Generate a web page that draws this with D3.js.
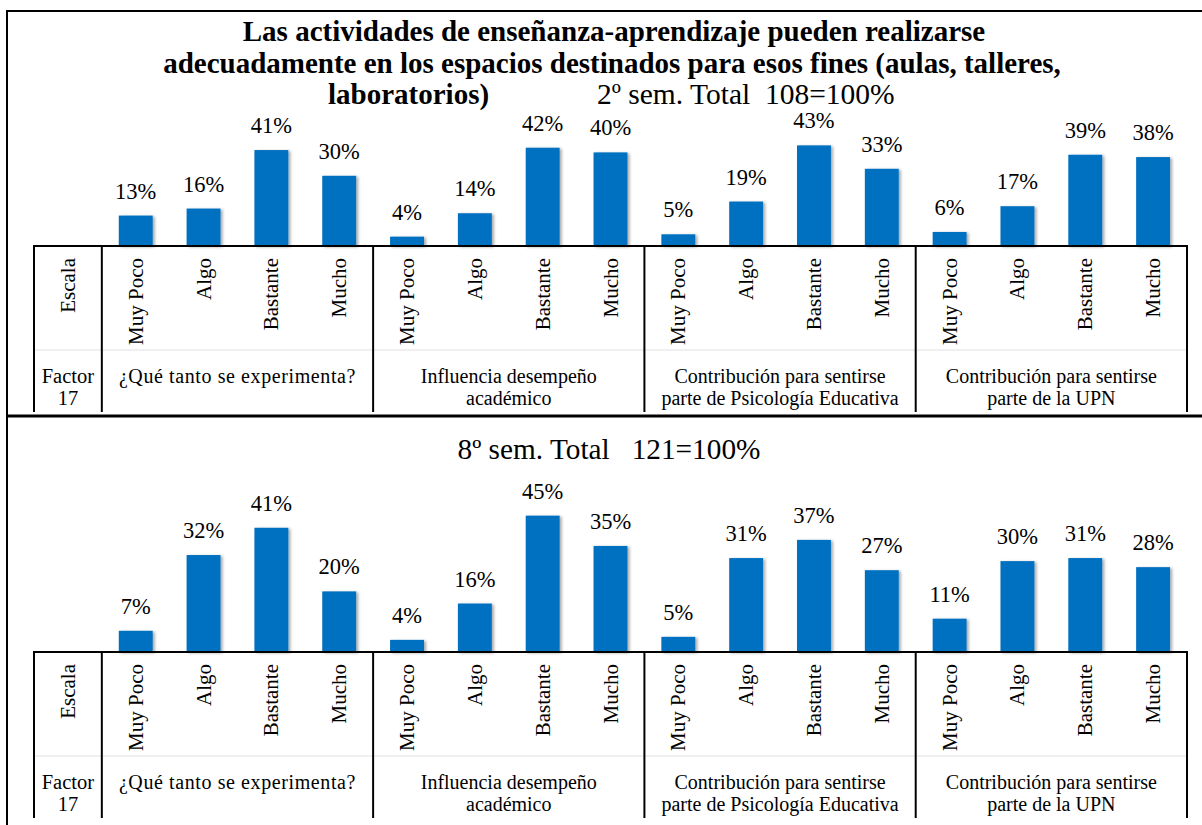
<!DOCTYPE html>
<html>
<head>
<meta charset="utf-8">
<script src="https://cdn.jsdelivr.net/npm/d3@7"></script>
<style>
  body { margin: 0; background: #fff; }
  text { font-family: "Liberation Serif", "Times New Roman", serif; fill: #000; }
</style>
</head>
<body>
<div id="graphHolder"></div>
<script>
var scaleLabels = ["Muy Poco", "Algo", "Bastante", "Mucho"];
var groupLabels = [
    ["¿Qué tanto se experimenta?"],
    ["Influencia desempeño", "académico"],
    ["Contribución para sentirse", "parte de Psicología Educativa"],
    ["Contribución para sentirse", "parte de la UPN"]
];
var sem2Values = [0.13, 0.16, 0.41, 0.30, 0.04, 0.14, 0.42, 0.40, 0.05, 0.19, 0.43, 0.33, 0.06, 0.17, 0.39, 0.38];
var sem8Values = [0.07, 0.32, 0.41, 0.20, 0.04, 0.16, 0.45, 0.35, 0.05, 0.31, 0.37, 0.27, 0.11, 0.30, 0.31, 0.28];
var titleLines = [
    "Las actividades de enseñanza-aprendizaje pueden realizarse",
    "adecuadamente en los espacios destinados para esos fines (aulas, talleres,",
    "laboratorios)"
];
var sem2Title = "2º sem. Total\u00a0 108=100%";
var sem8Title = "8º sem. Total \u00a0 121=100%";

var graphWidth = 1202, graphHeight = 825;

var svg = d3.select("#graphHolder")
        .append("svg")
        .attr("width", graphWidth)
        .attr("height", graphHeight);

var defs = svg.append("defs");
defs.append("filter").attr("id", "shadow")
        .attr("x", "-20%").attr("y", "-20%").attr("width", "150%").attr("height", "150%")
        .append("feDropShadow")
        .attr("dx", 2).attr("dy", 1)
        .attr("stdDeviation", 1.5)
        .attr("flood-color", "#000")
        .attr("flood-opacity", 0.35);

// slots: Escala column + 16 bars
var slots = ["Escala"];
groupLabels.forEach(function (g, gi) {
    scaleLabels.forEach(function (s) { slots.push(gi + "-" + s); });
});

var x = d3.scaleBand().domain(slots).range([34, 1187]).padding(0);
var bw = x.bandwidth();

// frame
svg.append("path")
        .attr("d", "M7,830 L7,11 L1203,11")
        .attr("fill", "none").attr("stroke", "#000").attr("stroke-width", 2);
svg.append("line")
        .attr("x1", 7).attr("x2", 1202).attr("y1", 416).attr("y2", 416)
        .attr("stroke", "#000").attr("stroke-width", 3);

// title
var title = svg.append("g");
title.append("text").attr("x", 614).attr("y", 41).attr("text-anchor", "middle")
        .attr("font-weight", "bold").attr("font-size", 29).text(titleLines[0]);
title.append("text").attr("x", 612).attr("y", 73).attr("text-anchor", "middle")
        .attr("font-weight", "bold").attr("font-size", 29).text(titleLines[1]);
title.append("text").attr("x", 328).attr("y", 104)
        .attr("font-weight", "bold").attr("font-size", 29).text(titleLines[2]);
title.append("text").attr("x", 597).attr("y", 104)
        .attr("font-size", 29.5).text(sem2Title);

svg.append("text").attr("x", 609).attr("y", 459).attr("text-anchor", "middle")
        .attr("font-size", 29.3).text(sem8Title);

function drawPanel(values, base, pxPerPct) {
    var g = svg.append("g");
    var y = d3.scaleLinear().domain([0, 0.5]).range([base, base - pxPerPct * 50]);
    var bars = slots.slice(1);

    g.selectAll("rect.bar")
            .data(values)
            .enter().append("rect")
            .attr("class", "bar")
            .attr("x", function (d, i) { return x(bars[i]) + bw * 0.25; })
            .attr("y", function (d) { return y(d); })
            .attr("width", bw * 0.5)
            .attr("height", function (d) { return base - y(d); })
            .attr("fill", "#0070C0")
            .attr("filter", "url(#shadow)");

    g.selectAll("text.val")
            .data(values)
            .enter().append("text")
            .attr("class", "val")
            .attr("x", function (d, i) { return x(bars[i]) + bw / 2; })
            .attr("y", function (d) { return y(d) - 17; })
            .attr("text-anchor", "middle")
            .attr("font-size", 22.5)
            .text(function (d) { return d3.format(".0%")(d); });

    var tableBottom = base + 166;
    var sepY = base + 104;

    // faint separator between tick rows and group labels
    g.append("line")
            .attr("x1", 34).attr("x2", 1187).attr("y1", sepY).attr("y2", sepY)
            .attr("stroke", "#e0e0e0").attr("stroke-width", 1);

    // axis
    g.append("line")
            .attr("x1", 33).attr("x2", 1188).attr("y1", base).attr("y2", base)
            .attr("stroke", "#000").attr("stroke-width", 2);

    var dividers = [34, x(slots[1])].concat(groupLabels.map(function (gl, gi) {
        return x(slots[gi * 4 + 4]) + bw;
    }));
    g.selectAll("line.div")
            .data(dividers)
            .enter().append("line")
            .attr("class", "div")
            .attr("x1", function (d) { return d; }).attr("x2", function (d) { return d; })
            .attr("y1", base).attr("y2", tableBottom)
            .attr("stroke", "#000").attr("stroke-width", 2);

    // rotated tick labels
    g.selectAll("text.tick")
            .data(slots)
            .enter().append("text")
            .attr("class", "tick")
            .attr("transform", function (d) {
                return "translate(" + (x(d) + bw / 2 + 7) + "," + (base + 12) + ") rotate(-90)";
            })
            .attr("text-anchor", "end")
            .attr("font-size", 21)
            .text(function (d) { return d === "Escala" ? d : d.split("-")[1]; });

    // row labels
    var fac = g.append("text").attr("x", x("Escala") + bw / 2).attr("text-anchor", "middle").attr("font-size", 20.5);
    fac.append("tspan").attr("x", x("Escala") + bw / 2).attr("y", base + 137).text("Factor");
    fac.append("tspan").attr("x", x("Escala") + bw / 2).attr("y", base + 159).text("17");

    groupLabels.forEach(function (gl, gi) {
        var cx = (x(slots[gi * 4 + 1]) + x(slots[gi * 4 + 4]) + bw) / 2;
        var t = g.append("text").attr("text-anchor", "middle").attr("font-size", 20)
                .attr("letter-spacing", gi === 0 ? 0.6 : 0);
        gl.forEach(function (line, li) {
            t.append("tspan").attr("x", cx).attr("y", base + 137 + li * 22).text(line);
        });
    });
}

drawPanel(sem2Values, 246, 2.34);
drawPanel(sem8Values, 652, 3.03);
</script>
</body>
</html>
